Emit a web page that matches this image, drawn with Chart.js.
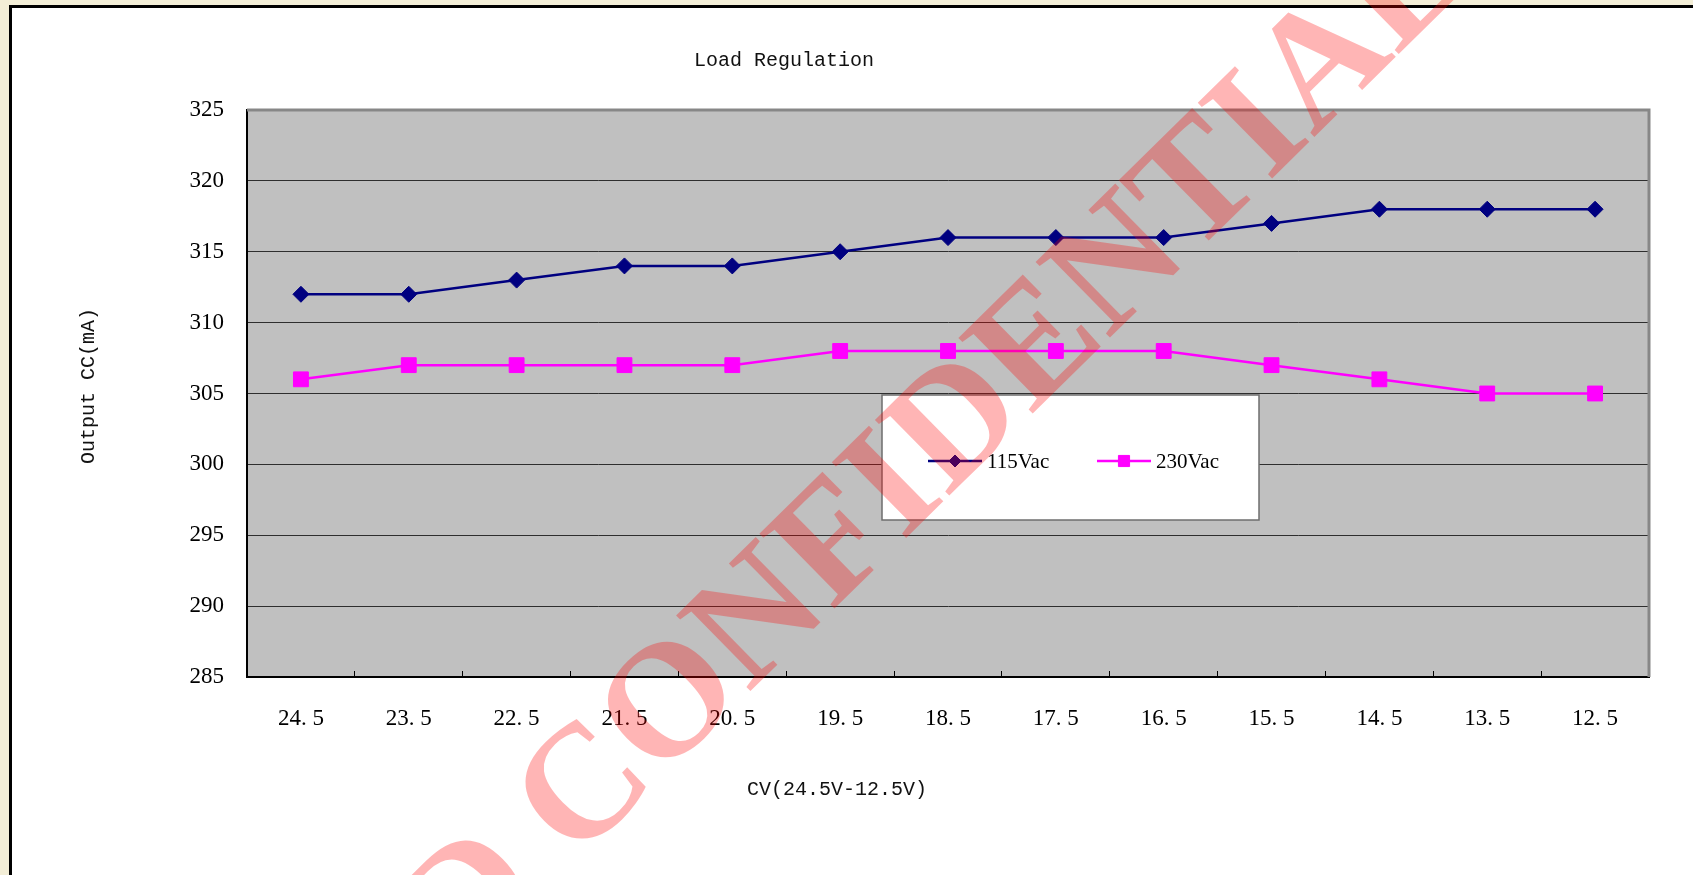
<!DOCTYPE html>
<html>
<head>
<meta charset="utf-8">
<title>Load Regulation</title>
<script src="https://cdn.jsdelivr.net/npm/chart.js@4.4.1/dist/chart.umd.min.js"></script>
<style>
  html, body { margin: 0; padding: 0; background: #f3eed7; overflow: hidden; }
  canvas { display: block; }
</style>
</head>
<body>
<canvas id="chart" width="1693" height="875"></canvas>
<script>
// Output voltage steps (CV) along the x axis
const categories = ['24. 5', '23. 5', '22. 5', '21. 5', '20. 5', '19. 5', '18. 5',
                    '17. 5', '16. 5', '15. 5', '14. 5', '13. 5', '12. 5'];

// Output constant current (mA) per input line voltage
const seriesLabels = ['115Vac', '230Vac'];
const values115Vac = [312, 312, 313, 314, 314, 315, 316, 316, 316, 317, 318, 318, 318];
const values230Vac = [306, 307, 307, 307, 307, 308, 308, 308, 308, 307, 306, 305, 305];

// Value axis range
const yMin = 285;
const yMax = 325;
const yStep = 5;

// Captions
const chartTitle = 'Load Regulation';
const xAxisTitle = 'CV(24.5V-12.5V)';
const yAxisTitle = 'Output CC(mA)';
const stampText = 'D CONFIDENTIAL';

const SERIF = '"Liberation Serif", "Times New Roman", serif';
const MONO = '"Liberation Mono", "Courier New", monospace';

// Page frame and grey plot background
const framePlugin = {
  id: 'frame',
  beforeDraw(chart) {
    const { ctx, width, height, chartArea: a } = chart;
    ctx.save();
    ctx.fillStyle = '#f3eed7';
    ctx.fillRect(0, 0, width, height);
    ctx.fillStyle = '#ffffff';
    ctx.fillRect(10, 6, width, height);
    ctx.fillStyle = '#000000';
    ctx.fillRect(9, 5, 3, height);
    ctx.fillRect(9, 5, width, 3);
    ctx.fillStyle = '#c0c0c0';
    ctx.fillRect(a.left, a.top, a.right - a.left, a.bottom - a.top);
    ctx.restore();
  }
};

// Grey top and right edges of the plot area
const plotEdgePlugin = {
  id: 'plotEdge',
  beforeDatasetsDraw(chart) {
    const { ctx, chartArea: a } = chart;
    ctx.save();
    ctx.strokeStyle = '#878787';
    ctx.lineWidth = 3;
    ctx.beginPath();
    ctx.moveTo(a.left, a.top);
    ctx.lineTo(a.right, a.top);
    ctx.lineTo(a.right, a.bottom);
    ctx.stroke();
    ctx.restore();
  }
};

function drawMarker(ctx, style, r, x, y) {
  ctx.beginPath();
  if (style === 'rectRot') {
    ctx.moveTo(x - r, y);
    ctx.lineTo(x, y - r);
    ctx.lineTo(x + r, y);
    ctx.lineTo(x, y + r);
  } else {
    const s = r * Math.SQRT1_2;
    ctx.rect(x - s, y - s, 2 * s, 2 * s);
  }
  ctx.closePath();
  ctx.fill();
  ctx.stroke();
}

// Boxed legend sitting inside the plot area
const boxLegendPlugin = {
  id: 'boxLegend',
  afterDatasetsDraw(chart, args, opts) {
    const { ctx } = chart;
    const b = opts.box;
    ctx.save();
    ctx.fillStyle = '#ffffff';
    ctx.fillRect(b.x, b.y, b.w, b.h);
    ctx.strokeStyle = '#6e6e6e';
    ctx.lineWidth = 1.5;
    ctx.strokeRect(b.x, b.y, b.w, b.h);
    chart.data.datasets.forEach((ds, i) => {
      const x0 = opts.itemX + i * opts.itemGap;
      const y = opts.itemY;
      ctx.strokeStyle = ds.borderColor;
      ctx.lineWidth = ds.borderWidth;
      ctx.beginPath();
      ctx.moveTo(x0, y);
      ctx.lineTo(x0 + opts.lineLen, y);
      ctx.stroke();
      ctx.fillStyle = ds.pointBackgroundColor;
      ctx.strokeStyle = ds.pointBorderColor;
      ctx.lineWidth = 1;
      drawMarker(ctx, ds.pointStyle, ds.pointRadius * opts.markerScale, x0 + opts.lineLen / 2, y);
      ctx.fillStyle = '#000000';
      ctx.font = opts.font;
      ctx.textAlign = 'left';
      ctx.textBaseline = 'middle';
      ctx.fillText(ds.label, x0 + opts.lineLen + 5, y + 1);
    });
    ctx.restore();
  }
};

// Chart title and axis titles
const captionsPlugin = {
  id: 'captions',
  afterDraw(chart) {
    const { ctx } = chart;
    ctx.save();
    ctx.fillStyle = '#111111';
    ctx.font = '20px ' + MONO;
    ctx.textAlign = 'center';
    ctx.textBaseline = 'middle';
    ctx.fillText(chartTitle, 784, 61);
    ctx.fillText(xAxisTitle, 837, 790);
    ctx.translate(89, 386);
    ctx.rotate(-Math.PI / 2);
    ctx.fillText(yAxisTitle, 0, 0);
    ctx.restore();
  }
};

// Diagonal document stamp across the page
const stampPlugin = {
  id: 'stamp',
  afterDraw(chart) {
    const { ctx } = chart;
    ctx.save();
    ctx.font = 'bold 162px ' + SERIF;
    ctx.fillStyle = 'rgba(255, 0, 0, 0.29)';
    ctx.textBaseline = 'middle';
    ctx.textAlign = 'left';
    ctx.translate(995, 392);
    ctx.rotate(-44.5 * Math.PI / 180);
    const word = stampText.split(' ').pop();
    const lead = stampText.slice(0, stampText.length - word.length);
    const start = -ctx.measureText(word).width / 2 - ctx.measureText(lead).width;
    ctx.fillText(stampText, start, 0);
    ctx.restore();
  }
};

new Chart(document.getElementById('chart'), {
  type: 'line',
  data: {
    labels: categories,
    datasets: [
      {
        label: seriesLabels[0],
        data: values115Vac,
        borderColor: '#000080',
        backgroundColor: '#000080',
        pointBackgroundColor: '#000080',
        pointBorderColor: '#000080',
        borderWidth: 2.5,
        pointStyle: 'rectRot',
        pointRadius: 8,
        pointBorderWidth: 1,
        tension: 0,
        fill: false
      },
      {
        label: seriesLabels[1],
        data: values230Vac,
        borderColor: '#ff00ff',
        backgroundColor: '#ff00ff',
        pointBackgroundColor: '#ff00ff',
        pointBorderColor: '#ff00ff',
        borderWidth: 2.5,
        pointStyle: 'rect',
        pointRadius: 10.5,
        pointBorderWidth: 1,
        tension: 0,
        fill: false
      }
    ]
  },
  options: {
    responsive: false,
    devicePixelRatio: 1,
    animation: false,
    layout: { padding: { left: 0, right: 44, top: 110, bottom: 0 } },
    plugins: {
      legend: { display: false },
      title: { display: false },
      tooltip: { enabled: false },
      boxLegend: {
        box: { x: 882, y: 395, w: 377, h: 125 },
        itemX: 928,
        itemY: 461,
        itemGap: 169,
        lineLen: 54,
        markerScale: 0.75,
        font: '21px ' + SERIF
      }
    },
    scales: {
      x: {
        type: 'category',
        offset: true,
        grid: {
          offset: true,
          drawOnChartArea: false,
          drawTicks: true,
          tickLength: -6,
          color: '#000000',
          lineWidth: 1
        },
        border: { display: true, color: '#000000', width: 2 },
        ticks: {
          color: '#000000',
          font: { family: SERIF, size: 23 },
          padding: 34,
          maxRotation: 0,
          autoSkip: false
        },
        afterFit(scale) { scale.height = 198; }
      },
      y: {
        min: yMin,
        max: yMax,
        grid: {
          color: '#2e2e2e',
          lineWidth: 1,
          drawTicks: false
        },
        border: { display: true, color: '#000000', width: 2 },
        ticks: {
          stepSize: yStep,
          color: '#000000',
          font: { family: SERIF, size: 23 },
          padding: 23
        },
        afterFit(scale) { scale.width = 247; }
      }
    }
  },
  plugins: [framePlugin, plotEdgePlugin, boxLegendPlugin, captionsPlugin, stampPlugin]
});
</script>
</body>
</html>
